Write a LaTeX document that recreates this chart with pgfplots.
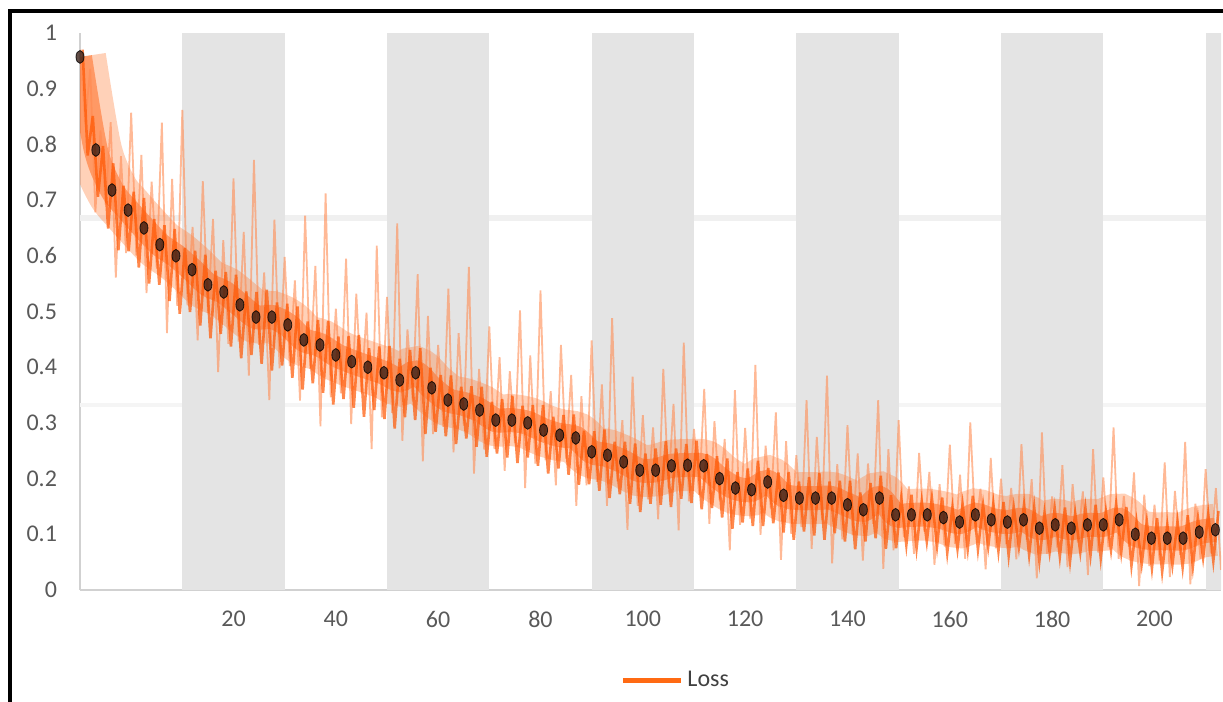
\documentclass[border=0pt]{standalone}
\usepackage{pgfplots}
\pgfplotsset{compat=1.18}
\usepackage{fontspec}
\setmainfont{Carlito}

\definecolor{bandgray}{HTML}{E4E4E4}
\definecolor{ticktext}{HTML}{595959}
\definecolor{lossorange}{HTML}{FF6A13}
\definecolor{coreorange}{HTML}{FF5500}
\definecolor{softorange}{HTML}{FF7A35}
\definecolor{spikeorange}{HTML}{FF8A50}
\definecolor{markdark}{HTML}{3A2018}

\pgfplotstableread{
x y
-10 0.957
-6.9 0.79
-3.75 0.718
-0.6 0.682
2.5 0.65
5.6 0.62
8.75 0.60
11.9 0.575
15 0.548
18.1 0.535
21.25 0.512
24.4 0.49
27.5 0.49
30.6 0.476
33.75 0.449
36.9 0.44
40 0.422
43.1 0.41
46.25 0.40
49.4 0.39
52.5 0.377
55.6 0.39
58.75 0.363
61.9 0.341
65 0.334
68.1 0.323
71.25 0.305
74.4 0.305
77.5 0.30
80.6 0.287
83.75 0.278
86.9 0.273
90 0.248
93.1 0.242
96.25 0.23
99.4 0.215
102.5 0.215
105.6 0.223
108.75 0.224
111.9 0.223
115 0.20
118.1 0.183
121.25 0.18
124.4 0.194
127.5 0.17
130.6 0.165
133.75 0.165
136.9 0.165
140 0.153
143.1 0.144
146.25 0.165
149.4 0.135
152.5 0.135
155.6 0.135
158.75 0.13
161.9 0.122
165 0.135
168.1 0.126
171.25 0.122
174.4 0.126
177.5 0.111
180.6 0.117
183.75 0.111
186.9 0.117
190 0.117
193.1 0.126
196.25 0.10
199.4 0.093
202.5 0.093
205.6 0.093
208.75 0.104
211.9 0.108
}\smoothloss

\begin{document}
\begin{tikzpicture}
\begin{axis}[
    scale only axis,
    width=570.5pt, height=278.5pt,
    xmin=-10, xmax=213, ymin=0, ymax=1,
    axis x line*=bottom, axis y line*=left,
    axis line style={draw=black!18, line width=0.8pt},
    major tick length=0pt,
    xtick={20,40,...,200},
    ytick={0,0.1,...,1},
    /pgf/number format/assume math mode=true,
    tick label style={font=\fontsize{12}{14}\selectfont, text=ticktext},
    xticklabel style={yshift=-7pt},
    yticklabel style={xshift=-8pt},
    legend style={at={(0.523,-0.162)}, anchor=center, draw=none, fill=none,
        font=\fontsize{12}{14}\selectfont, text=black!75},
    legend image code/.code={\draw[#1] (0pt,0pt) -- (29pt,0pt);},
]
% faint horizontal streaks
\addplot[black!6, line width=3pt, forget plot] coordinates {(-10,0.667)(213,0.667)};
\addplot[black!4, line width=2pt, forget plot] coordinates {(-10,0.332)(213,0.332)};
% alternating grey bands
\addplot[fill=bandgray, draw=none, forget plot] coordinates {(10,1)(30,1)} \closedcycle;
\addplot[fill=bandgray, draw=none, forget plot] coordinates {(50,1)(70,1)} \closedcycle;
\addplot[fill=bandgray, draw=none, forget plot] coordinates {(90,1)(110,1)} \closedcycle;
\addplot[fill=bandgray, draw=none, forget plot] coordinates {(130,1)(150,1)} \closedcycle;
\addplot[fill=bandgray, draw=none, forget plot] coordinates {(170,1)(190,1)} \closedcycle;
\addplot[fill=bandgray, draw=none, forget plot] coordinates {(210,1)(230,1)} \closedcycle;

% broad core of the loss band
\addplot[softorange, opacity=0.35, line width=26pt, smooth, forget plot] table {\smoothloss};
\addplot[coreorange, opacity=0.45, line width=12pt, smooth, forget plot] table {\smoothloss};

% thin spikes
\addplot[spikeorange, opacity=0.6, line width=0.9pt, forget plot] coordinates {
(-10,0.97)(-9,0.836)(-8,0.936)(-7,0.678)(-6,0.825)(-5,0.692)(-4,0.84)(-3,0.561)(-2,0.779)(-1,0.605)
(0,0.857)(1,0.601)(2,0.781)(3,0.533)(4,0.733)(5,0.577)(6,0.839)(7,0.461)(8,0.738)(9,0.51)
(10,0.862)(11,0.511)(12,0.652)(13,0.448)(14,0.734)(15,0.497)(16,0.666)(17,0.391)(18,0.628)(19,0.442)
(20,0.739)(21,0.446)(22,0.643)(23,0.385)(24,0.772)(25,0.44)(26,0.57)(27,0.341)(28,0.665)(29,0.398)
(30,0.598)(31,0.402)(32,0.556)(33,0.34)(34,0.672)(35,0.397)(36,0.582)(37,0.294)(38,0.712)(39,0.346)
(40,0.505)(41,0.353)(42,0.595)(43,0.298)(44,0.532)(45,0.355)(46,0.498)(47,0.253)(48,0.618)(49,0.31)
(50,0.526)(51,0.318)(52,0.658)(53,0.268)(54,0.468)(55,0.34)(56,0.567)(57,0.231)(58,0.492)(59,0.28)
(60,0.44)(61,0.293)(62,0.541)(63,0.247)(64,0.461)(65,0.295)(66,0.58)(67,0.209)(68,0.397)(69,0.252)
(70,0.473)(71,0.253)(72,0.418)(73,0.214)(74,0.393)(75,0.264)(76,0.502)(77,0.183)(78,0.421)(79,0.227)
(80,0.538)(81,0.233)(82,0.357)(83,0.188)(84,0.44)(85,0.236)(86,0.386)(87,0.151)(88,0.348)(89,0.188)
(90,0.448)(91,0.194)(92,0.369)(93,0.151)(94,0.488)(95,0.195)(96,0.305)(97,0.108)(98,0.383)(99,0.151)
(100,0.314)(101,0.163)(102,0.292)(103,0.127)(104,0.397)(105,0.184)(106,0.334)(107,0.107)(108,0.444)(109,0.159)
(110,0.289)(111,0.171)(112,0.361)(113,0.119)(114,0.303)(115,0.161)(116,0.271)(117,0.071)(118,0.359)(119,0.117)
(120,0.291)(121,0.128)(122,0.404)(123,0.099)(124,0.259)(125,0.146)(126,0.319)(127,0.054)(128,0.267)(129,0.101)
(130,0.242)(131,0.113)(132,0.341)(133,0.074)(134,0.275)(135,0.126)(136,0.385)(137,0.048)(138,0.226)(139,0.091)
(140,0.296)(141,0.098)(142,0.245)(143,0.053)(144,0.227)(145,0.119)(146,0.341)(147,0.038)(148,0.253)(149,0.071)
(150,0.305)(151,0.095)(152,0.186)(153,0.065)(154,0.246)(155,0.105)(156,0.212)(157,0.045)(158,0.19)(159,0.078)
(160,0.261)(161,0.083)(162,0.207)(163,0.056)(164,0.301)(165,0.105)(166,0.182)(167,0.037)(168,0.237)(169,0.075)
(170,0.2)(171,0.082)(172,0.183)(173,0.055)(174,0.262)(175,0.09)(176,0.199)(177,0.021)(178,0.283)(179,0.065)
(180,0.168)(181,0.076)(182,0.224)(183,0.041)(184,0.19)(185,0.085)(186,0.177)(187,0.027)(188,0.253)(189,0.067)
(190,0.202)(191,0.077)(192,0.292)(193,0.056)(194,0.169)(195,0.078)(196,0.211)(197,0.007)(198,0.171)(199,0.043)
(200,0.153)(201,0.053)(202,0.229)(203,0.023)(204,0.178)(205,0.063)(206,0.266)(207,0.01)(208,0.155)(209,0.056)
(210,0.217)(211,0.066)(212,0.183)(213,0.036)};

% dense core jitter
\addplot[coreorange, opacity=0.7, line width=1.3pt, forget plot] coordinates {
(-9.5,0.97)(-8.5,0.78)(-7.5,0.851)(-6.5,0.706)(-5.5,0.797)(-4.5,0.649)(-3.5,0.766)(-2.5,0.61)(-1.5,0.726)(-0.5,0.608)
(0.5,0.715)(1.5,0.579)(2.5,0.704)(3.5,0.55)(4.5,0.666)(5.5,0.548)(6.5,0.655)(7.5,0.519)(8.5,0.648)(9.5,0.496)
(10.5,0.614)(11.5,0.499)(12.5,0.609)(13.5,0.475)(14.5,0.602)(15.5,0.452)(16.5,0.573)(17.5,0.46)(18.5,0.571)(19.5,0.437)
(20.5,0.566)(21.5,0.416)(22.5,0.536)(23.5,0.422)(24.5,0.535)(25.5,0.406)(26.5,0.539)(27.5,0.394)(28.5,0.516)(29.5,0.403)
(30.5,0.514)(31.5,0.381)(32.5,0.509)(33.5,0.36)(34.5,0.482)(35.5,0.371)(36.5,0.485)(37.5,0.354)(38.5,0.483)(39.5,0.333)
(40.5,0.455)(41.5,0.343)(42.5,0.456)(43.5,0.327)(44.5,0.458)(45.5,0.311)(46.5,0.434)(47.5,0.323)(48.5,0.437)(49.5,0.307)
(50.5,0.438)(51.5,0.29)(52.5,0.415)(53.5,0.31)(54.5,0.431)(55.5,0.305)(56.5,0.434)(57.5,0.28)(58.5,0.399)(59.5,0.284)
(60.5,0.386)(61.5,0.276)(62.5,0.385)(63.5,0.262)(64.5,0.365)(65.5,0.272)(66.5,0.366)(67.5,0.257)(68.5,0.365)(69.5,0.239)
(70.5,0.338)(71.5,0.245)(72.5,0.343)(73.5,0.238)(74.5,0.349)(75.5,0.228)(76.5,0.331)(77.5,0.238)(78.5,0.332)(79.5,0.223)
(80.5,0.332)(81.5,0.209)(82.5,0.311)(83.5,0.218)(84.5,0.314)(85.5,0.207)(86.5,0.315)(87.5,0.189)(88.5,0.286)(89.5,0.19)
(90.5,0.285)(91.5,0.178)(92.5,0.288)(93.5,0.165)(94.5,0.266)(95.5,0.172)(96.5,0.266)(97.5,0.155)(98.5,0.263)(99.5,0.14)
(100.5,0.245)(101.5,0.155)(102.5,0.254)(103.5,0.153)(104.5,0.267)(105.5,0.149)(106.5,0.254)(107.5,0.164)(108.5,0.262)(109.5,0.156)
(110.5,0.268)(111.5,0.145)(112.5,0.244)(113.5,0.147)(114.5,0.24)(115.5,0.13)(116.5,0.236)(117.5,0.11)(118.5,0.212)(119.5,0.121)
(120.5,0.218)(121.5,0.115)(122.5,0.232)(123.5,0.115)(124.5,0.219)(125.5,0.12)(126.5,0.211)(127.5,0.103)(128.5,0.212)(129.5,0.09)
(130.5,0.195)(131.5,0.105)(132.5,0.203)(133.5,0.098)(134.5,0.21)(135.5,0.09)(136.5,0.195)(137.5,0.102)(138.5,0.196)(139.5,0.087)
(140.5,0.196)(141.5,0.073)(142.5,0.175)(143.5,0.087)(144.5,0.192)(145.5,0.093)(146.5,0.205)(147.5,0.074)(148.5,0.17)(149.5,0.075)
(150.5,0.165)(151.5,0.081)(152.5,0.171)(153.5,0.075)(154.5,0.159)(155.5,0.087)(156.5,0.165)(157.5,0.079)(158.5,0.166)(159.5,0.067)
(160.5,0.148)(161.5,0.074)(162.5,0.154)(163.5,0.074)(164.5,0.169)(165.5,0.073)(166.5,0.153)(167.5,0.078)(168.5,0.155)(169.5,0.07)
(170.5,0.158)(171.5,0.062)(172.5,0.148)(173.5,0.077)(174.5,0.153)(175.5,0.063)(176.5,0.148)(177.5,0.052)(178.5,0.138)(179.5,0.068)
(180.5,0.146)(181.5,0.06)(182.5,0.148)(183.5,0.052)(184.5,0.138)(185.5,0.068)(186.5,0.147)(187.5,0.063)(188.5,0.153)(189.5,0.057)
(190.5,0.141)(191.5,0.072)(192.5,0.154)(193.5,0.068)(194.5,0.149)(195.5,0.044)(196.5,0.122)(197.5,0.047)(198.5,0.123)(199.5,0.039)
(200.5,0.129)(201.5,0.033)(202.5,0.117)(203.5,0.045)(204.5,0.123)(205.5,0.041)(206.5,0.134)(207.5,0.042)(208.5,0.129)(209.5,0.058)
(210.5,0.136)(211.5,0.052)(212.5,0.142)};

% smoothed markers
\addplot[only marks, mark=*, mark size=2pt, opacity=0.8,
    mark options={draw=none, fill=markdark, yscale=1.6}, forget plot] table {\smoothloss};

\addlegendimage{lossorange, line width=2.5pt}
\addlegendentry{Loss}
\end{axis}
\pgfresetboundingbox
\path[use as bounding box] ([xshift=-40pt,yshift=-56pt]current axis.south west)
    rectangle ([xshift=571.5pt,yshift=295pt]current axis.south west);
\draw[black, line width=2pt]
    ([xshift=-35pt,yshift=-100pt]current axis.south west)
    -- ([xshift=-35pt,yshift=289.5pt]current axis.south west)
    -- ([xshift=700pt,yshift=289.5pt]current axis.south west);
\end{tikzpicture}
\end{document}
